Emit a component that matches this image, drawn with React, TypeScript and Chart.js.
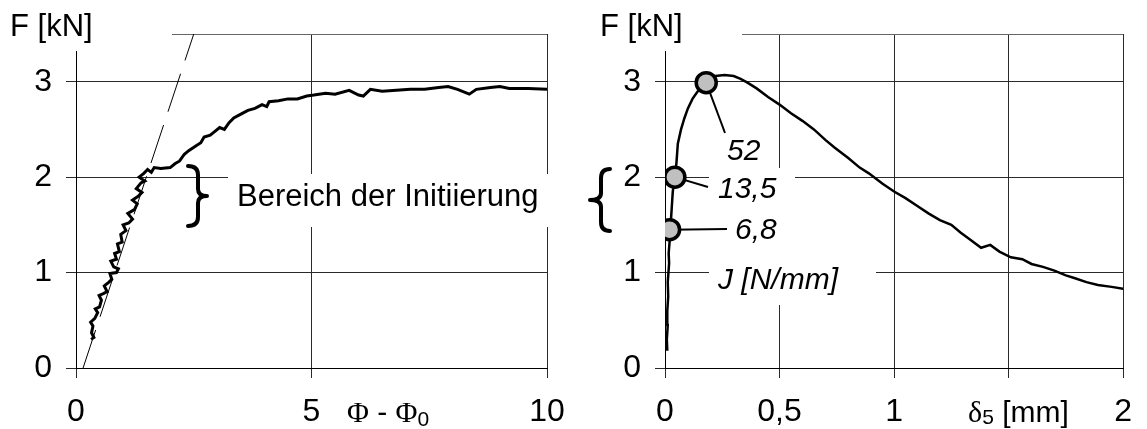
import React, { useEffect, useRef } from 'react';
import { Chart, registerables } from 'chart.js';

Chart.register(...registerables);

// ---------- data ----------
const leftPhi = [0.32, 0.38, 0.33, 0.36, 0.31, 0.40, 0.46, 0.41, 0.50, 0.54, 0.49, 0.58, 0.66, 0.60, 0.70, 0.76, 0.72, 0.86, 0.90, 0.80, 0.74, 0.86, 0.82, 0.92, 0.88, 0.98, 0.95, 1.06, 1.00, 1.12, 1.20, 1.10, 1.24, 1.30, 1.20, 1.32, 1.40, 1.28, 1.38, 1.46, 1.34, 1.44, 1.52, 1.60, 1.66, 1.80, 2.00, 2.10, 2.20, 2.30, 2.40, 2.55, 2.65, 2.72, 2.85, 2.95, 3.05, 3.15, 3.25, 3.35, 3.50, 3.65, 3.80, 3.95, 4.05, 4.10, 4.30, 4.50, 4.70, 4.90, 5.05, 5.30, 5.50, 5.80, 6.00, 6.10, 6.25, 6.50, 6.80, 7.10, 7.40, 7.70, 7.90, 8.10, 8.35, 8.50, 8.80, 9.00, 9.20, 9.60, 10.0];
const leftF = [0.30, 0.32, 0.37, 0.44, 0.48, 0.52, 0.58, 0.62, 0.64, 0.71, 0.76, 0.78, 0.80, 0.86, 0.90, 0.93, 0.99, 1.00, 1.04, 1.06, 1.12, 1.14, 1.20, 1.22, 1.30, 1.32, 1.40, 1.44, 1.50, 1.52, 1.56, 1.62, 1.66, 1.72, 1.76, 1.80, 1.84, 1.88, 1.94, 1.96, 2.00, 2.04, 2.08, 2.05, 2.10, 2.09, 2.10, 2.14, 2.17, 2.24, 2.28, 2.33, 2.36, 2.42, 2.44, 2.48, 2.52, 2.50, 2.57, 2.62, 2.66, 2.70, 2.72, 2.76, 2.74, 2.79, 2.80, 2.82, 2.82, 2.85, 2.86, 2.88, 2.87, 2.91, 2.86, 2.85, 2.92, 2.90, 2.91, 2.92, 2.92, 2.94, 2.95, 2.92, 2.87, 2.92, 2.94, 2.95, 2.93, 2.93, 2.92];
const dashPhi = [0.15, 2.5];
const dashF = [0, 3.5];

const rightDelta = [0.010, 0.008, 0.012, 0.010, 0.014, 0.012, 0.015, 0.018, 0.016, 0.020, 0.022, 0.026, 0.030, 0.034, 0.043, 0.050, 0.056, 0.070, 0.085, 0.100, 0.120, 0.140, 0.165, 0.190, 0.220, 0.260, 0.300, 0.330, 0.360, 0.400, 0.450, 0.500, 0.550, 0.600, 0.650, 0.700, 0.740, 0.800, 0.850, 0.890, 0.950, 1.000, 1.050, 1.100, 1.150, 1.200, 1.250, 1.290, 1.330, 1.380, 1.420, 1.460, 1.510, 1.560, 1.600, 1.650, 1.700, 1.750, 1.790, 1.840, 1.890, 1.950, 2.000];
const rightF = [0.18, 0.30, 0.45, 0.60, 0.75, 0.90, 1.00, 1.10, 1.20, 1.32, 1.45, 1.55, 1.70, 1.85, 2.00, 2.15, 2.35, 2.50, 2.62, 2.72, 2.82, 2.89, 2.96, 3.02, 3.06, 3.07, 3.06, 3.03, 2.99, 2.93, 2.84, 2.76, 2.67, 2.59, 2.50, 2.39, 2.31, 2.20, 2.10, 2.04, 1.93, 1.85, 1.78, 1.70, 1.62, 1.55, 1.50, 1.42, 1.35, 1.26, 1.29, 1.22, 1.16, 1.14, 1.09, 1.06, 1.02, 0.97, 0.94, 0.90, 0.87, 0.85, 0.83];

const markerDelta = [0.02, 0.043, 0.18];
const markerF = [1.45, 2.0, 2.99];
const markerLabels = ['6,8', '13,5', '52'];

const leftXTicks = [0, 5, 10];
const rightXTicks = [0, 0.5, 1, 1.5, 2];
const yTicks = [0, 1, 2, 3];

const yLabel = 'F [kN]';
const rangeLabel = 'Bereich der Initiierung';
const jLabel = 'J [N/mm]';

// ---------- styling ----------
const SANS = '"Liberation Sans", Arial, sans-serif';
const SERIF = '"Liberation Serif", "DejaVu Serif", serif';
const GRID = '#2a2a2a';
const TICK_FONT = { family: SANS, size: 32 };

function pts(xs: number[], ys: number[]) {
  return xs.map((x, i) => ({ x, y: ys[i] }));
}

type Run = { t: string; font: string; dy?: number };
function drawRuns(ctx: CanvasRenderingContext2D, x: number, y: number, runs: Run[]) {
  let cx = x;
  ctx.textBaseline = 'middle';
  ctx.textAlign = 'left';
  for (const r of runs) {
    ctx.font = r.font;
    ctx.fillText(r.t, cx, y + (r.dy || 0));
    cx += ctx.measureText(r.t).width;
  }
}

function drawBrace(ctx: CanvasRenderingContext2D, xHook: number, xSpine: number, xTip: number, yTop: number, yBot: number) {
  const ym = (yTop + yBot) / 2;
  ctx.save();
  ctx.lineWidth = 4;
  ctx.lineCap = 'round';
  ctx.lineJoin = 'round';
  ctx.strokeStyle = '#000';
  ctx.beginPath();
  ctx.moveTo(xHook, yTop);
  ctx.quadraticCurveTo(xSpine, yTop, xSpine, yTop + 9);
  ctx.lineTo(xSpine, ym - 7);
  ctx.quadraticCurveTo(xSpine, ym, xTip, ym);
  ctx.quadraticCurveTo(xSpine, ym, xSpine, ym + 7);
  ctx.lineTo(xSpine, yBot - 9);
  ctx.quadraticCurveTo(xSpine, yBot, xHook, yBot);
  ctx.stroke();
  ctx.restore();
}

function baseScales(xMin: number, xMax: number, xTicks: number[], yWidth: number, fmt: (v: number) => string) {
  return {
    x: {
      type: 'linear' as const,
      min: xMin,
      max: xMax,
      afterBuildTicks: (s: any) => { s.ticks = xTicks.map((v) => ({ value: v })); },
      afterFit: (s: any) => { s.height = 61; },
      ticks: { font: TICK_FONT, color: '#000', padding: 15, maxRotation: 0, autoSkip: false, callback: (v: any) => fmt(Number(v)) },
      grid: { color: GRID, lineWidth: 1, tickLength: 10, tickColor: GRID },
      border: { color: '#000', width: 1 },
    },
    y: {
      type: 'linear' as const,
      min: 0,
      max: 3.5,
      afterBuildTicks: (s: any) => { s.ticks = yTicks.map((v) => ({ value: v })); },
      afterFit: (s: any) => { s.width = yWidth; },
      ticks: { font: TICK_FONT, color: '#000', padding: 14, callback: (v: any) => String(v) },
      grid: { color: GRID, lineWidth: 1, tickLength: 10, tickColor: GRID },
      border: { color: '#000', width: 1 },
    },
  };
}

const leftDecor = {
  id: 'leftDecor',
  beforeDatasetsDraw(chart: any) {
    const ctx: CanvasRenderingContext2D = chart.ctx;
    const ys = chart.scales.y;
    ctx.save();
    ctx.fillStyle = '#fff';
    ctx.fillRect(0, 0, 172, 51);
    ctx.fillRect(228, 174, 340, 53);
    const top = Math.round(ys.getPixelForValue(3.5)) + 0.5;
    ctx.strokeStyle = '#666';
    ctx.lineWidth = 1;
    ctx.beginPath();
    ctx.moveTo(172, top);
    ctx.lineTo(chart.chartArea.right, top);
    ctx.stroke();
    ctx.restore();
  },
  afterDraw(chart: any) {
    const ctx: CanvasRenderingContext2D = chart.ctx;
    ctx.save();
    ctx.fillStyle = '#000';
    drawRuns(ctx, 10, 27, [{ t: yLabel, font: `31px ${SANS}` }]);
    drawRuns(ctx, 237, 197, [{ t: rangeLabel, font: `31px ${SANS}` }]);
    drawRuns(ctx, 347, 414, [
      { t: 'Φ', font: `30px ${SERIF}` },
      { t: ' - ', font: `30px ${SANS}` },
      { t: 'Φ', font: `30px ${SERIF}` },
      { t: '0', font: `21px ${SANS}`, dy: 6 },
    ]);
    ctx.restore();
    drawBrace(ctx, 188, 198, 207, 166, 226);
  },
};

const rightDecor = {
  id: 'rightDecor',
  beforeDatasetsDraw(chart: any) {
    const ctx: CanvasRenderingContext2D = chart.ctx;
    const xs = chart.scales.x;
    const ys = chart.scales.y;
    ctx.save();
    ctx.fillStyle = '#fff';
    ctx.fillRect(0, 0, 162, 51);
    ctx.fillRect(129, 168, 86, 80);
    ctx.fillRect(129, 248, 167, 57);
    const top = Math.round(ys.getPixelForValue(3.5)) + 0.5;
    ctx.strokeStyle = '#666';
    ctx.lineWidth = 1;
    ctx.beginPath();
    ctx.moveTo(162, top);
    ctx.lineTo(chart.chartArea.right, top);
    ctx.stroke();
    // leader lines
    const ends = [[147, 229], [128, 187], [145, 133]];
    ctx.strokeStyle = '#000';
    ctx.lineWidth = 2;
    markerDelta.forEach((d, i) => {
      ctx.beginPath();
      ctx.moveTo(xs.getPixelForValue(d), ys.getPixelForValue(markerF[i]));
      ctx.lineTo(ends[i][0], ends[i][1]);
      ctx.stroke();
    });
    ctx.restore();
  },
  afterDraw(chart: any) {
    const ctx: CanvasRenderingContext2D = chart.ctx;
    ctx.save();
    ctx.fillStyle = '#000';
    drawRuns(ctx, 20, 27, [{ t: yLabel, font: `31px ${SANS}` }]);
    const pos = [[155, 231], [138, 190], [147, 152]];
    markerLabels.forEach((l, i) => {
      drawRuns(ctx, pos[i][0], pos[i][1], [{ t: l, font: `italic 30px ${SANS}` }]);
    });
    drawRuns(ctx, 138, 281, [{ t: jLabel, font: `italic 30px ${SANS}` }]);
    drawRuns(ctx, 388, 414, [
      { t: 'δ', font: `30px ${SERIF}` },
      { t: '5', font: `21px ${SANS}`, dy: 4 },
      { t: ' [mm]', font: `30px ${SANS}` },
    ]);
    ctx.restore();
    drawBrace(ctx, 30, 21, 10, 169, 231);
  },
};

function LeftChart() {
  const ref = useRef<HTMLCanvasElement>(null);
  useEffect(() => {
    if (!ref.current) return;
    const chart = new Chart(ref.current, {
      type: 'scatter',
      data: {
        datasets: [
          { data: pts(leftPhi, leftF), showLine: true, borderColor: '#000', borderWidth: 3, pointRadius: 0, tension: 0 },
          { data: pts(dashPhi, dashF), showLine: true, borderColor: '#000', borderWidth: 1, borderDash: [40, 14], pointRadius: 0 },
        ],
      },
      options: {
        animation: false,
        responsive: false,
        maintainAspectRatio: false,
        layout: { padding: { left: 0, top: 34, right: 33, bottom: 0 } },
        plugins: { legend: { display: false }, tooltip: { enabled: false } },
        scales: baseScales(0, 10, leftXTicks, 76, (v) => String(v)) as any,
      },
      plugins: [leftDecor],
    });
    return () => chart.destroy();
  }, []);
  return <canvas ref={ref} width={580} height={429} style={{ position: 'absolute', left: 0, top: 0, width: 580, height: 429 }} />;
}

function RightChart() {
  const ref = useRef<HTMLCanvasElement>(null);
  useEffect(() => {
    if (!ref.current) return;
    const chart = new Chart(ref.current, {
      type: 'scatter',
      data: {
        datasets: [
          { data: pts(markerDelta, markerF), showLine: false, pointRadius: 10, pointBorderWidth: 3.5, pointBackgroundColor: '#c0c0c0', pointBorderColor: '#000' },
          { data: pts(rightDelta, rightF), showLine: true, borderColor: '#000', borderWidth: 2.5, pointRadius: 0, tension: 0 },
        ],
      },
      options: {
        animation: false,
        responsive: false,
        maintainAspectRatio: false,
        layout: { padding: { left: 0, top: 34, right: 15, bottom: 0 } },
        plugins: { legend: { display: false }, tooltip: { enabled: false } },
        scales: baseScales(0, 2, rightXTicks, 85, (v) => (v === 1.5 ? '' : String(v).replace('.', ','))) as any,
      },
      plugins: [rightDecor],
    });
    return () => chart.destroy();
  }, []);
  return <canvas ref={ref} width={567} height={429} style={{ position: 'absolute', left: 580, top: 0, width: 567, height: 429 }} />;
}

export default function App() {
  return (
    <div style={{ position: 'absolute', left: 0, top: 0, width: 1147, height: 429, background: '#fff', overflow: 'hidden' }}>
      <LeftChart />
      <RightChart />
    </div>
  );
}
